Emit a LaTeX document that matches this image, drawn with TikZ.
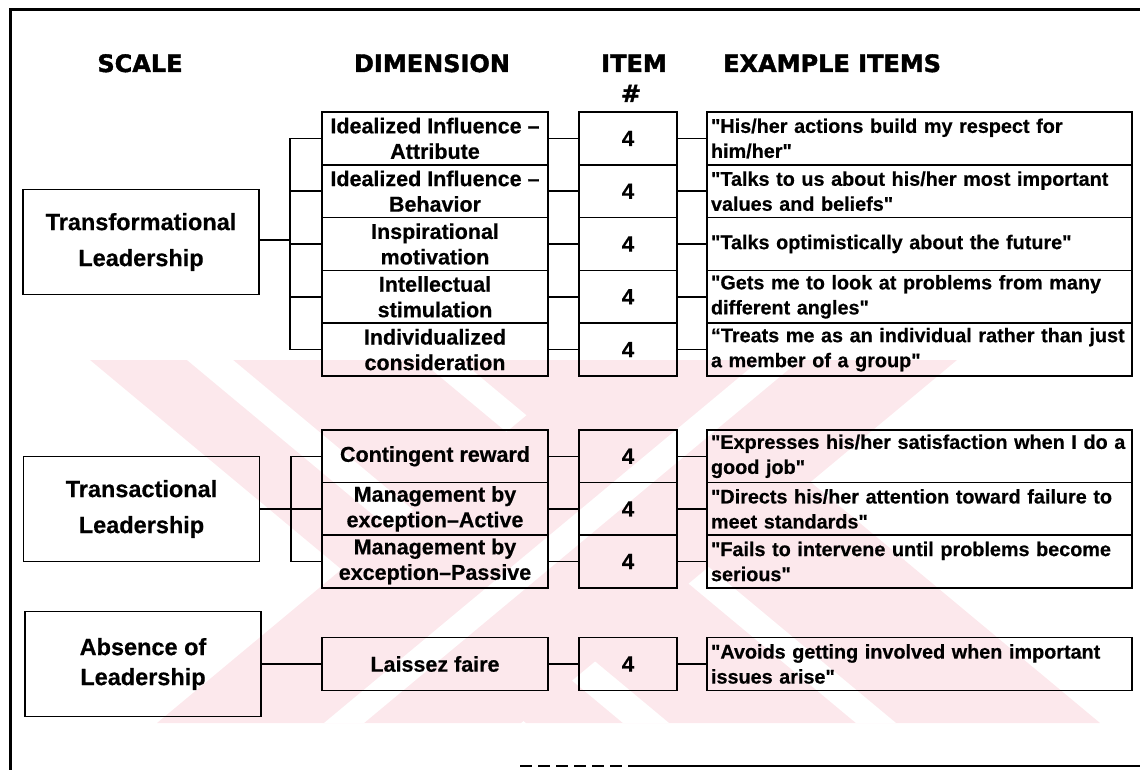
\documentclass[tikz,border=0pt]{standalone}
\usepackage{fontspec}
\setmainfont{Liberation Sans}[Ligatures=TeXOff, BoldFeatures={FakeBold=0.5}]
\newfontfamily\headfont{DejaVu Sans}[BoldFeatures={FakeBold=1.6}]
\definecolor{wmpink}{RGB}{252,232,236}
\begin{document}
\begin{tikzpicture}[x=1pt,y=-1pt,
  box/.style={draw=black, line width=1.5pt, inner sep=0pt, align=center},
  scalebox/.style={box, minimum width=236pt, minimum height=105pt,
    font=\fontsize{23.5}{36}\selectfont\bfseries},
  dimbox/.style={box, minimum width=226pt, minimum height=52.6pt,
    font=\fontsize{21.5}{25.5}\selectfont\bfseries},
  itembox/.style={box, minimum width=98pt, minimum height=52.6pt,
    font=\fontsize{22}{26}\selectfont\bfseries},
  exbox/.style={box, minimum width=425pt, minimum height=52.6pt,
    align=left, text width=417pt,
    font=\fontsize{19.8}{25}\selectfont\bfseries},
  head/.style={font=\headfont\bfseries\fontsize{24}{28}\selectfont,
    inner sep=0pt, anchor=base},
  link/.style={line width=1.4pt},
  frame/.style={line width=3pt},
  wm/.style={fill=wmpink, draw=none},
  wmgap/.style={fill=white, draw=none}
]
\useasboundingbox (0,0) rectangle (1140,770);

% faint diagonal background mark
\fill[wm] (90,360) -- (664,360) -- (1100,723) -- (526,723) -- cycle;
\fill[wmgap] (187,360) -- (233,360) -- (669,723) -- (623,723) -- cycle;
\fill[wmgap] (420,360) -- (460,360) -- (896,723) -- (856,723) -- cycle;
\fill[wm] (593,360) -- (957,360) -- (521,723) -- (157,723) -- cycle;
\fill[wmgap] (760,360) -- (800,360) -- (364,723) -- (324,723) -- cycle;

% page frame
\draw[frame] (10,770) -- (10,10) -- (1140,10);
\draw[line width=2.2pt, dash pattern=on 12pt off 6pt] (520,766) -- (640,766);
\draw[line width=2.4pt] (640,766) -- (1140,766);

% column headings
\node[head] (hscale) at (140,72) {SCALE};
\node[head] (hdim) at (432,72) {DIMENSION};
\node[head] (hitem) at (634,72) {ITEM};
\node[head] (hnum) at (631,102) {\#};
\node[head, anchor=base west] (hex) at (723,72) {EXAMPLE ITEMS};

% scales
\node[scalebox] (trf) at (141,242) {Transformational\\Leadership};
\node[scalebox] (trn) at (141.5,509) {Transactional\\Leadership};
\node[scalebox, font=\fontsize{23.5}{30}\selectfont\bfseries] (abs) at (143,664) {Absence of\\Leadership};

% dimensions, item counts and example items, one row each
\foreach \k/\y/\dim/\ex in {
  1/138.4/{Idealized Influence –\\Attribute}/{"His/her actions build my respect for\\him/her"},
  2/191.2/{Idealized Influence –\\Behavior}/{"Talks to us about his/her most important\\values and beliefs"},
  3/244.0/{Inspirational\\motivation}/{"Talks optimistically about the future"},
  4/296.8/{Intellectual\\stimulation}/{"Gets me to look at problems from many\\different angles"},
  5/349.6/{Individualized\\consideration}/{“Treats me as an individual rather than just\\a member of a group"},
  6/456.3/{Contingent reward}/{"Expresses his/her satisfaction when I do a\\good job"},
  7/508.9/{Management by\\exception–Active}/{"Directs his/her attention toward failure to\\meet standards"},
  8/561.5/{Management by\\exception–Passive}/{"Fails to intervene until problems become\\serious"},
  9/664.0/{Laissez faire}/{"Avoids getting involved when important\\issues arise"}}
{
  \node[dimbox] (d\k) at (435,\y) {\dim};
  \node[itembox] (i\k) at (628,\y) {4};
  \node[exbox] (e\k) at (919.5,\y) {\ex};
  \draw[link] (d\k.east) -- (i\k.west);
  \draw[link] (i\k.east) -- (e\k.west);
}

% bracket joining Transformational Leadership to its five dimensions
\coordinate (tbus) at (290,240);
\draw[link] (trf.east |- tbus) -- (tbus);
\draw[link] (d1.west -| tbus) -- (d5.west -| tbus);
\foreach \k in {1,...,5} \draw[link] (d\k.west) -- (d\k.west -| tbus);

% bracket joining Transactional Leadership to its three dimensions
\coordinate (nbus) at (291,509);
\draw[link] (trn.east) -- (trn.east -| nbus);
\draw[link] (d6.west -| nbus) -- (d8.west -| nbus);
\foreach \k in {6,7,8} \draw[link] (d\k.west) -- (d\k.west -| nbus);

% Absence of Leadership has a single dimension
\draw[link] (abs.east) -- (d9.west);
\end{tikzpicture}
\end{document}
